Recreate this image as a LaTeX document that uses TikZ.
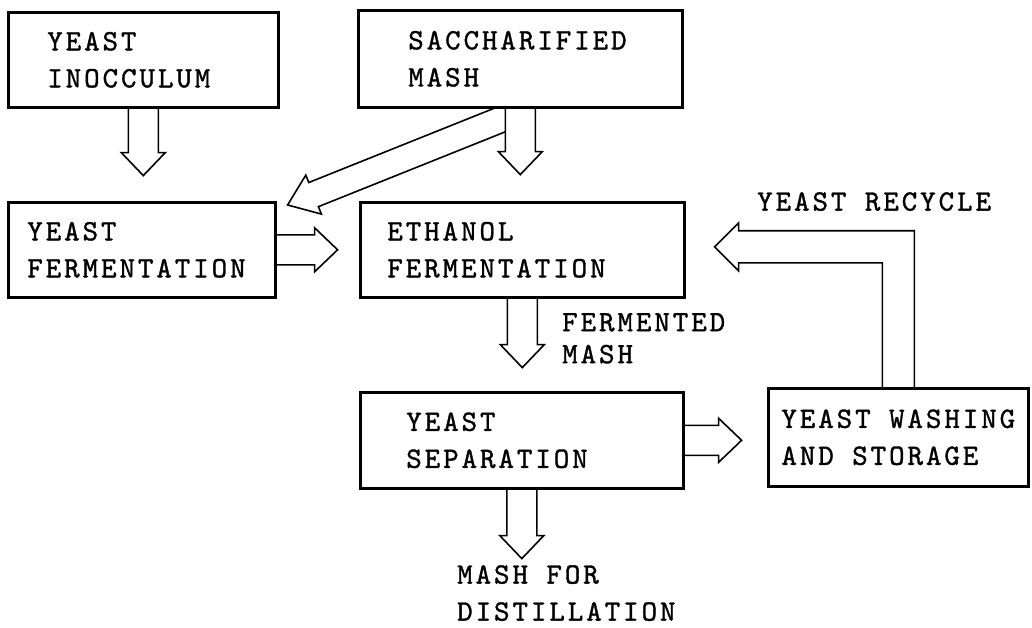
\documentclass[tikz,border=0pt]{standalone}
\usepackage{fontspec}
\setmonofont[LetterSpace=10,FakeBold=1.2]{lmmono10-regular.otf}
\usetikzlibrary{calc,backgrounds}

\def\shaftw{15pt}
\def\headw{22pt}
\def\headl{23pt}

% block arrow from #1 to its tip #2
\newcommand{\fatarrow}[2]{%
  \coordinate (fa-base) at ($(#2)!\headl!(#1)$);
  \path[fatarrow] ($(#1)!\shaftw!90:(#2)$) -- ($(fa-base)!\shaftw!90:(#2)$)
    -- ($(fa-base)!\headw!90:(#2)$) -- (#2) -- ($(fa-base)!\headw!-90:(#2)$)
    -- ($(fa-base)!\shaftw!-90:(#2)$) -- ($(#1)!\shaftw!-90:(#2)$);
}

\tikzset{
  every node/.style={font=\fontsize{29.5pt}{37pt}\selectfont\ttfamily},
  flowbox/.style={draw, line width=2.6pt, fill=white, anchor=north west,
    align=left, inner ysep=0pt},
  fatarrow/.style={draw, fill=white, line width=1.6pt, line join=miter},
  lbl/.style={anchor=north west, align=left, inner sep=0pt},
}

\begin{document}
\begin{tikzpicture}[x=1pt, y=-1pt]
	\useasboundingbox (0,0) rectangle (1032,628);

	% process boxes
	\node[flowbox, minimum height=95pt, text width=192pt, inner xsep=39pt] (inoc) at (7,11) {YEAST\\INOCCULUM};
	\node[flowbox, minimum height=97pt, text width=224pt, inner xsep=50pt] (sacch) at (357,9) {SACCHARIFIED\\MASH};
	\node[flowbox, minimum height=95pt, text width=229pt, inner xsep=19pt] (yferm) at (7,201) {YEAST\\FERMENTATION};
	\node[flowbox, minimum height=95pt, text width=270pt, inner xsep=27pt] (ethanol) at (359,201) {ETHANOL\\FERMENTATION};
	\node[flowbox, minimum height=96pt, text width=231pt, inner xsep=46pt] (ysep) at (359,391) {YEAST\\SEPARATION};
	\node[flowbox, minimum height=98pt, minimum width=260pt, inner xsep=5pt] (ywash) at (767,387) {YEAST WASHING\\AND STORAGE};

	% free labels
	\node[lbl, font=\fontsize{29.5pt}{32pt}\selectfont\ttfamily] (fmash) at (562,313) {FERMENTED\\MASH};
	\node[lbl] (recycle) at (757,192) {YEAST RECYCLE};
	\node[lbl] (dist) at (457,565) {MASH FOR\\DISTILLATION};

	% arrow tips
	\coordinate (inoc-t) at ($(inoc.south)+(0,67)$);
	\coordinate (sacch-t) at ($(sacch.south)+(0,66)$);
	\coordinate (eth-t) at ($(ethanol.south)+(0,69)$);
	\coordinate (dist-t) at ($(ysep.south)+(0,69)$);
	\coordinate (yferm-t) at ($(yferm.east)+(61,0)$);
	\coordinate (ysep-t) at ($(ysep.east)+(57,0)$);
	\coordinate (diag-s) at ($(sacch.south)+(-2,4)$);
	\coordinate (diag-t) at ($(yferm.north east)+(11,4)$);
	\coordinate (rc-t) at ($(ethanol.east)+(29,-3)$);
	\coordinate (rc-k) at (ywash.north |- rc-t);

	\begin{pgfonlayer}{background}
		\fill[white] (0,0) rectangle (1032,628);
		\begin{scope}
			\def\shaftw{13pt}\def\headw{21pt}\def\headl{28pt}
			\fatarrow{diag-s}{diag-t}
		\end{scope}
		\fatarrow{sacch.south}{sacch-t}
		\fatarrow{inoc.south}{inoc-t}
		\fatarrow{yferm.east}{yferm-t}
		\fatarrow{ethanol.south}{eth-t}
		\fatarrow{ysep.south}{dist-t}
		\fatarrow{ysep.east}{ysep-t}
		% recycle elbow
		\path[fatarrow] ($(ywash.north)+(-16,0)$) -- ($(rc-k)+(-16,16)$) -- ($(rc-t)+(24,16)$)
			-- ($(rc-t)+(24,24)$) -- (rc-t) -- ($(rc-t)+(24,-24)$) -- ($(rc-t)+(24,-16)$)
			-- ($(rc-k)+(16,-16)$) -- ($(ywash.north)+(16,0)$);
	\end{pgfonlayer}
\end{tikzpicture}
\end{document}
